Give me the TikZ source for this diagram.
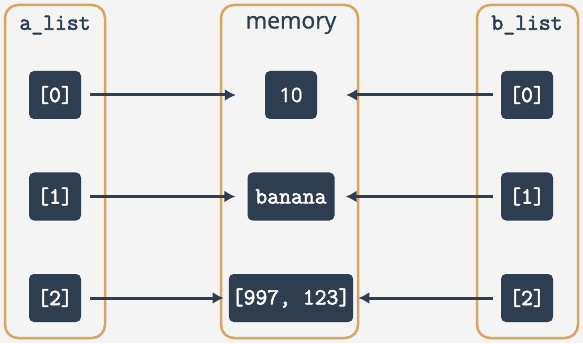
\documentclass[tikz,border=0pt]{standalone}
\usepackage{fontspec}
\setmonofont{Latin Modern Mono}[AutoFakeBold=2.5]
\newfontfamily\labelfont{Open Sans}[FakeBold=0.8]
\usetikzlibrary{positioning, arrows.meta}
\definecolor{bgcol}{HTML}{F4F4F4}
\definecolor{navy}{HTML}{2C3E50}
\definecolor{tan}{HTML}{D4A660}
\begin{document}
\begin{tikzpicture}[x=1pt, y=1pt, node distance=101.5pt,
    panel/.style={rectangle, draw=tan, line width=2.5pt, rounded corners=13pt, minimum width=100pt, minimum height=333pt},
    title/.style={text=navy, font=\ttfamily\bfseries\fontsize{23}{27}\selectfont},
    cell/.style={rectangle, fill=navy, text=white, rounded corners=5pt, minimum width=52pt, minimum height=48pt, inner xsep=3pt, font=\ttfamily\bfseries\fontsize{23}{27}\selectfont},
    line/.style={draw=navy, line width=3pt, -{Latex[length=11pt, width=12pt]}}]
    \fill [bgcol] (0,0) rectangle (583,343);
    \useasboundingbox (0,0) rectangle (583,343);
    % containers
    \node [panel] (apanel) at (55,171.5) {};
    \node [panel, minimum width=137pt] (mpanel) at (289.5,171.5) {};
    \node [panel, minimum width=101pt] (bpanel) at (527.5,171.5) {};
    \node [title] (atitle) at (55,318) {a\_list};
    \node [title, font=\labelfont\fontsize{23}{27}\selectfont] (mtitle) at (291,318) {memory};
    \node [title] (btitle) at (527,318) {b\_list};
    % a_list
    \node [cell] (a0) at (55,248) {[0]};
    \node [cell, below of=a0] (a1) {[1]};
    \node [cell, below of=a1] (a2) {[2]};
    % memory
    \node [cell, font=\labelfont\fontsize{20}{24}\selectfont] (m0) at (291,248) {10};
    \node [cell, below of=m0, minimum width=87pt] (m1) {banana};
    \node [cell, below of=m1] (m2) {[997, 123]};
    % b_list
    \node [cell] (b0) at (527,248) {[0]};
    \node [cell, below of=b0] (b1) {[1]};
    \node [cell, below of=b1] (b2) {[2]};

    \path [line, shorten <=9pt, shorten >=29pt] (a0) -- (m0);
    \path [line, shorten <=9pt, shorten >=12pt] (a1) -- (m1);
    \path [line, shorten <=9pt, shorten >=5pt] (a2) -- (m2);
    \path [line, shorten <=8pt, shorten >=29pt] (b0) -- (m0);
    \path [line, shorten <=8pt, shorten >=11pt] (b1) -- (m1);
    \path [line, shorten <=8pt, shorten >=5pt] (b2) -- (m2);
\end{tikzpicture}
\end{document}
